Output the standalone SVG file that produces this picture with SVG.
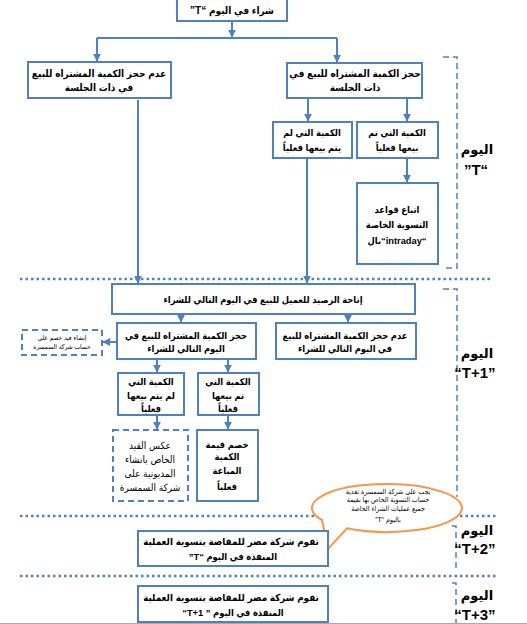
<svg xmlns="http://www.w3.org/2000/svg" width="527" height="624" viewBox="0 0 527 624">
<defs>
<style>
.box{fill:#fff;stroke:#4F81BD;stroke-width:2}
.dbox{fill:#fff;stroke:#4F81BD;stroke-width:2;stroke-dasharray:6 4}
.ln{fill:none;stroke:#4F81BD;stroke-width:2}
.ar{fill:none;stroke:#4F81BD;stroke-width:2;marker-end:url(#ah)}
.dot{fill:none;stroke:#4F81BD;stroke-width:2.5;stroke-dasharray:2.5 3}
.brk{fill:none;stroke:#4F81BD;stroke-width:1.5;stroke-dasharray:6 4}
.t{font-family:"Liberation Sans","DejaVu Sans Condensed","DejaVu Sans",sans-serif;font-weight:bold;font-size:9.3px;text-anchor:middle;direction:rtl;fill:#000}
.tb{font-size:9.8px}
.tm{font-size:10px}
.tn{font-family:"Liberation Sans","DejaVu Sans Condensed","DejaVu Sans",sans-serif;font-size:10px;text-anchor:middle;direction:rtl;fill:#000}
.ts{font-family:"Liberation Sans","DejaVu Sans Condensed","DejaVu Sans",sans-serif;font-size:6.5px;text-anchor:middle;direction:rtl;fill:#000}
.lab{font-family:"Liberation Sans","DejaVu Sans",sans-serif;font-weight:bold;font-size:13px;text-anchor:middle;fill:#000}
.labT{font-family:"Liberation Sans","DejaVu Sans",sans-serif;font-weight:bold;font-size:15px;text-anchor:middle;fill:#000}
</style>
<marker id="ah" viewBox="0 0 10 10" refX="9" refY="5" markerWidth="4" markerHeight="4" orient="auto" markerUnits="strokeWidth">
<path d="M0 0 L10 5 L0 10 Z" fill="#4F81BD"/>
</marker>
</defs>
<rect width="527" height="624" fill="#fff"/>

<g id="separators">
<line class="dot" x1="20" y1="279" x2="493" y2="279"/>
<line class="dot" x1="20" y1="516" x2="497" y2="516"/>
<line class="dot" x1="20" y1="576" x2="497" y2="576"/>
<path class="brk" d="M443 57 H457 V268 H445"/>
<path class="brk" d="M443 289 H457 V497"/>
<path class="brk" d="M452 526 H456 V568 H452"/>
<path class="brk" d="M452 583 H456 V624"/>
<line x1="0" y1="623.5" x2="527" y2="623.5" stroke="#aaaaaa" stroke-width="1"/>
</g>

<g id="connectors">
<path class="ar" d="M232 21 V37"/>
<path class="ln" d="M97 38 H337"/>
<path class="ar" d="M97 38 V61"/>
<path class="ar" d="M337 38 V62"/>
<path class="ar" d="M138 100 V283"/>
<path class="ar" d="M308 98 V121"/>
<path class="ar" d="M407 98 V121"/>
<path class="ar" d="M307 158 V283"/>
<path class="ar" d="M407 158 V182"/>
<path class="ar" d="M181 314 V322"/>
<path class="ar" d="M348 314 V322"/>
<path class="ar" d="M117 342 H103"/>
<path class="ar" d="M157 359 V372"/>
<path class="ar" d="M228 359 V372"/>
<path class="ar" d="M157 415 V429"/>
<path class="ar" d="M228 415 V429"/>
</g>

<g id="n-top">
<rect class="box" x="177" y="-3" width="110" height="24"/>
<text class="t tm" x="232" y="14">شراء في اليوم “T”</text>
</g>

<g id="n-nohold-T">
<rect class="box" x="28" y="62" width="143" height="36"/>
<text class="t tm" x="99" y="77">عدم حجز الكمية  المشتراه للبيع</text>
<text class="t tm" x="99" y="91">في ذات الجلسة</text>
</g>

<g id="n-hold-T">
<rect class="box" x="287" y="63" width="135" height="35"/>
<text class="t tm" x="355" y="77">حجز الكمية  المشتراه للبيع في</text>
<text class="t tm" x="355" y="91">ذات الجلسة</text>
</g>

<g id="n-unsold-T">
<rect class="box" x="273" y="122" width="79" height="36"/>
<text class="t" x="312" y="136">الكمية التي  لم</text>
<text class="t" x="312" y="151">يتم بيعها فعلياً</text>
</g>

<g id="n-sold-T">
<rect class="box" x="357" y="122" width="81" height="36"/>
<text class="t" x="397" y="136">الكمية التي تم</text>
<text class="t" x="397" y="151">بيعها فعلياً</text>
</g>

<g id="n-intraday">
<rect class="box" x="357" y="183" width="81" height="81"/>
<text class="t" x="397" y="213">اتباع قواعد</text>
<text class="t" x="397" y="228">التسوية الخاصة</text>
<text class="t" x="397" y="244" style="direction:ltr">بال“intraday“</text>
</g>

<g id="n-balance">
<rect class="box" x="112" y="284" width="303" height="30"/>
<text class="t" x="263" y="303">إتاحة الرصيد للعميل للبيع في اليوم التالي للشراء</text>
</g>

<g id="n-hold-T1">
<rect class="box" x="117" y="323" width="139" height="36"/>
<text class="t" x="186" y="339">حجز الكمية  المشتراه للبيع في</text>
<text class="t" x="186" y="352">اليوم التالي للشراء</text>
</g>

<g id="n-nohold-T1">
<rect class="box" x="276" y="323" width="140" height="36"/>
<text class="t" x="345" y="339">عدم حجز الكمية  المشتراه للبيع</text>
<text class="t" x="345" y="352">في اليوم التالي للشراء</text>
</g>

<g id="n-debit">
<rect class="dbox" x="22" y="330" width="80" height="25"/>
<text class="ts" x="62" y="340">إنشاء قيد خصم على</text>
<text class="ts" x="62" y="349">حساب شركة السمسرة</text>
</g>

<g id="n-unsold-T1">
<rect class="box" x="118" y="373" width="66" height="42"/>
<text class="t" x="151" y="385">الكمية التي</text>
<text class="t" x="151" y="399">لم يتم بيعها</text>
<text class="t" x="151" y="412">فعلياً</text>
</g>

<g id="n-sold-T1">
<rect class="box" x="198" y="373" width="61" height="42"/>
<text class="t" x="228" y="385">الكمية التي</text>
<text class="t" x="228" y="399">تم بيعها</text>
<text class="t" x="228" y="412">فعلياً</text>
</g>

<g id="n-reverse">
<rect class="dbox" x="113" y="430" width="75" height="71"/>
<text class="tn" x="150" y="449">عكس القيد</text>
<text class="tn" x="150" y="463">الخاص بانشاء</text>
<text class="tn" x="150" y="477">المديونية على</text>
<text class="tn" x="150" y="491">شركة السمسرة</text>
</g>

<g id="n-deduct">
<rect class="box" x="197" y="430" width="61" height="71"/>
<text class="t" x="227" y="448">خصم قيمة</text>
<text class="t" x="227" y="460">الكمية</text>
<text class="t" x="227" y="474">المباعة</text>
<text class="t" x="227" y="490">فعلياً</text>
</g>

<g id="n-callout">
<path d="M347 528.3 A75 24 0 1 0 322 520 L328 549 Z" fill="#fff" stroke="#F79646" stroke-width="2"/>
<text class="ts" x="388" y="494" style="font-size:7px">يجب على شركة السمسرة تغذية</text>
<text class="ts" x="388" y="502" style="font-size:7px">حساب التسوية الخاص بها بقيمة</text>
<text class="ts" x="388" y="511" style="font-size:7px">جميع عمليات الشراء الخاصة</text>
<text class="ts" x="388" y="522" style="font-size:7px">باليوم “T”</text>
</g>

<g id="n-T2">
<rect class="box" x="138" y="531" width="190" height="35"/>
<text class="t tb" x="231" y="545">تقوم شركة مصر للمقاصة بتسوية العملية</text>
<text class="t" x="233" y="560">المنفذة في اليوم “T”</text>
</g>

<g id="n-T3">
<rect class="box" x="138" y="586" width="190" height="36"/>
<text class="t tb" x="231" y="601">تقوم شركة مصر للمقاصة بتسوية العملية</text>
<text class="t" x="233" y="616" style="direction:ltr">“T+1 ” المنفذة في اليوم</text>
</g>

<g id="labels">
<text class="lab" x="477" y="154">اليوم</text>
<text class="labT" x="476" y="175">”T“</text>
<text class="lab" x="477" y="358">اليوم</text>
<text class="labT" x="475" y="378">“T+1”</text>
<text class="lab" x="477" y="535">اليوم</text>
<text class="labT" x="475" y="554">“T+2”</text>
<text class="lab" x="477" y="600">اليوم</text>
<text class="labT" x="475" y="620">“T+3”</text>
</g>
</svg>
